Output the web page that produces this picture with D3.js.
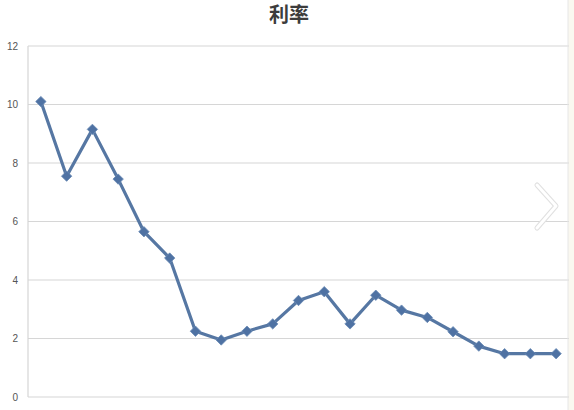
<!DOCTYPE html>
<html>
<head>
<meta charset="utf-8">
<script src="https://cdn.jsdelivr.net/npm/d3@7"></script>
<style>
  html, body { margin: 0; padding: 0; background: #fff; }
  svg { display: block; font-family: "Noto Sans CJK SC", "Liberation Sans", sans-serif; }
</style>
</head>
<body>
<div id="chart"></div>
<script>
// 利率 series, 21 points
const periods = d3.range(1, 22);
const rates = [10.1, 7.55, 9.15, 7.45, 5.65, 4.75, 2.25, 1.95, 2.25, 2.5,
               3.3, 3.6, 2.5, 3.48, 2.97, 2.72, 2.23, 1.74, 1.48, 1.48, 1.48];
const yTicks = [0, 2, 4, 6, 8, 10, 12];
const title = '利率';

const width = 574, height = 410;
const margin = { top: 46, right: 5, bottom: 13, left: 28 };

const svg = d3.select('#chart').append('svg')
    .attr('width', width)
    .attr('height', height);

// light cream edge on the right like the photo
svg.append('rect')
    .attr('x', 568).attr('y', 0)
    .attr('width', 6).attr('height', height)
    .attr('fill', '#faf8f0');

const x = d3.scaleBand()
    .domain(periods)
    .range([margin.left, width - margin.right]);

const y = d3.scaleLinear()
    .domain([0, 12])
    .range([height - margin.bottom, margin.top]);

// gridlines
svg.append('g')
    .selectAll('line')
    .data(yTicks)
    .join('line')
    .attr('x1', margin.left)
    .attr('x2', width - margin.right)
    .attr('y1', d => y(d))
    .attr('y2', d => y(d))
    .attr('stroke', '#d6d6d6')
    .attr('stroke-width', 1.2);

// left axis line
svg.append('line')
    .attr('x1', margin.left).attr('x2', margin.left)
    .attr('y1', y(12)).attr('y2', y(0))
    .attr('stroke', '#d6d6d6')
    .attr('stroke-width', 1.2);

// right border
svg.append('line')
    .attr('x1', 568).attr('x2', 568)
    .attr('y1', 0).attr('y2', height)
    .attr('stroke', '#e6e6e6');

// y axis labels
const yAxis = d3.axisLeft(y).tickValues(yTicks).tickSize(0).tickPadding(10);
svg.append('g')
    .attr('transform', `translate(${margin.left},0)`)
    .call(yAxis)
    .call(g => g.select('.domain').remove())
    .call(g => g.selectAll('text')
        .attr('fill', '#555')
        .attr('font-size', '10px')
        .attr('font-family', '"Liberation Sans", sans-serif'));

// title
svg.append('text')
    .attr('x', 289)
    .attr('y', 22)
    .attr('text-anchor', 'middle')
    .attr('fill', '#3c3c3c')
    .attr('font-size', '20px')
    .attr('font-weight', '700')
    .text(title);

const cx = d => x(d) + x.bandwidth() / 2;

// line
const line = d3.line()
    .x((d, i) => cx(periods[i]))
    .y(d => y(d));

svg.append('path')
    .datum(rates)
    .attr('fill', 'none')
    .attr('stroke', '#5677a3')
    .attr('stroke-width', 3.2)
    .attr('stroke-linejoin', 'round')
    .attr('d', line);

// diamond markers (square turned 45°)
const r = 5.2;
svg.append('g')
    .selectAll('path')
    .data(rates)
    .join('path')
    .attr('transform', (d, i) => `translate(${cx(periods[i])},${y(d)})`)
    .attr('d', `M0,${-r} L${r},0 L0,${r} L${-r},0 Z`)
    .attr('fill', '#4f72a3')
    .attr('stroke', '#6a8ab5')
    .attr('stroke-width', 0.8);

// carousel chevron overlay
svg.append('path')
    .attr('d', 'M537,185 L556,206 L537,228')
    .attr('fill', 'none')
    .attr('stroke', '#e0e0e0')
    .attr('stroke-width', 5)
    .attr('stroke-linecap', 'round')
    .attr('stroke-linejoin', 'round');
svg.append('path')
    .attr('d', 'M537,185 L556,206 L537,228')
    .attr('fill', 'none')
    .attr('stroke', '#ffffff')
    .attr('stroke-width', 3)
    .attr('stroke-linecap', 'round')
    .attr('stroke-linejoin', 'round');
</script>
</body>
</html>
